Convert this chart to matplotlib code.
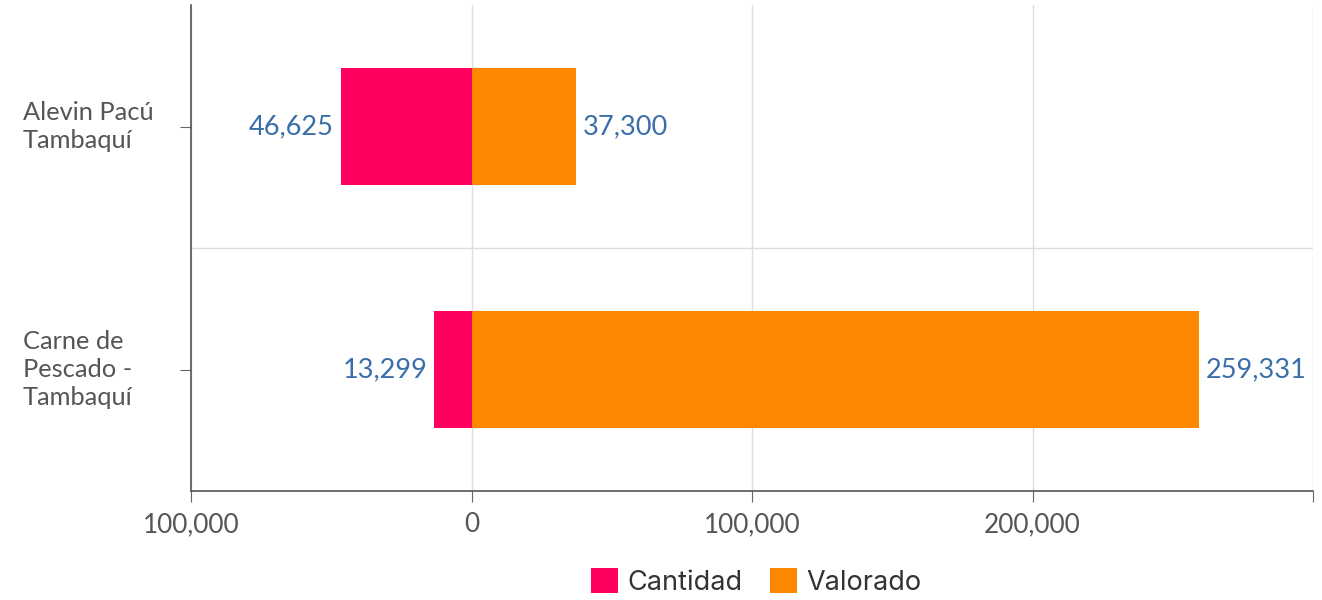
import matplotlib.pyplot as plt
import matplotlib.transforms as mtransforms
from matplotlib.patches import Patch
from matplotlib.ticker import FuncFormatter
import numpy as np

plt.rcParams['font.family'] = ['Lato', 'DejaVu Sans']

productos = ["Alevin Pacú\nTambaquí", "Carne de\nPescado -\nTambaquí"]
cantidad = [46625, 13299]
valorado = [37300, 259331]

pink = "#FF0060"
orange = "#FF8700"
label_blue = "#3A6EA8"

fig = plt.figure(figsize=(13.22, 6), dpi=100)
ax = fig.add_axes([191 / 1322, 1 - 491 / 600, (1313 - 191) / 1322, (491 - 5) / 600])

y = np.arange(len(productos))
h = 0.48
bars_c = ax.barh(y, -np.array(cantidad), height=h, color=pink, zorder=3)
bars_v = ax.barh(y, valorado, height=h, color=orange, zorder=3)

ax.bar_label(bars_c, labels=[f"{v:,}" for v in cantidad], padding=5,
             color=label_blue, fontsize=19.5)
ax.bar_label(bars_v, labels=[f"{v:,}" for v in valorado], padding=5,
             color=label_blue, fontsize=19.5)

ax.set_xlim(-100000, 300000)
ax.set_ylim(len(productos) - 0.5, -0.5)
ax.set_xticks([-100000, 0, 100000, 200000, 300000])
ax.xaxis.set_major_formatter(FuncFormatter(
    lambda v, p: "" if v >= 300000 else f"{abs(v):,.0f}"))
ax.tick_params(axis='x', labelsize=18.8, labelcolor="#555555", length=8,
               color="#666666", pad=7)

ax.set_yticks(y)
ax.set_yticklabels([])
ax.tick_params(axis='y', length=8, color="#666666")
ax.set_yticks([0.5], minor=True)
ax.tick_params(axis='y', which='minor', length=0)

ax.grid(axis='x', color="#DDDDDD", linewidth=1, zorder=0)
ax.grid(axis='y', which='minor', color="#DDDDDD", linewidth=1, zorder=0)

for side in ("top", "right"):
    ax.spines[side].set_visible(False)
for side in ("left", "bottom"):
    ax.spines[side].set_color("#555555")
    ax.spines[side].set_linewidth(1.2)

# category names, left-aligned near the figure edge
trans = mtransforms.blended_transform_factory(fig.transFigure, ax.transData)
for yi, name in zip(y, productos):
    ax.text(23 / 1322, yi, name, transform=trans, ha='left', va='center',
            fontsize=18.3, color="#555555", linespacing=1.25)

handles = [Patch(facecolor=pink, label="Cantidad"),
           Patch(facecolor=orange, label="Valorado")]
fig.legend(handles=handles, loc='center', bbox_to_anchor=(756 / 1322, 1 - 582 / 600),
           ncol=2, frameon=False, prop={'family': 'Inter', 'size': 19.5},
           handlelength=1.0, handleheight=1.0, handletextpad=0.35,
           columnspacing=1.0, labelcolor="#333333")

fig.savefig("out.png", dpi=100)
